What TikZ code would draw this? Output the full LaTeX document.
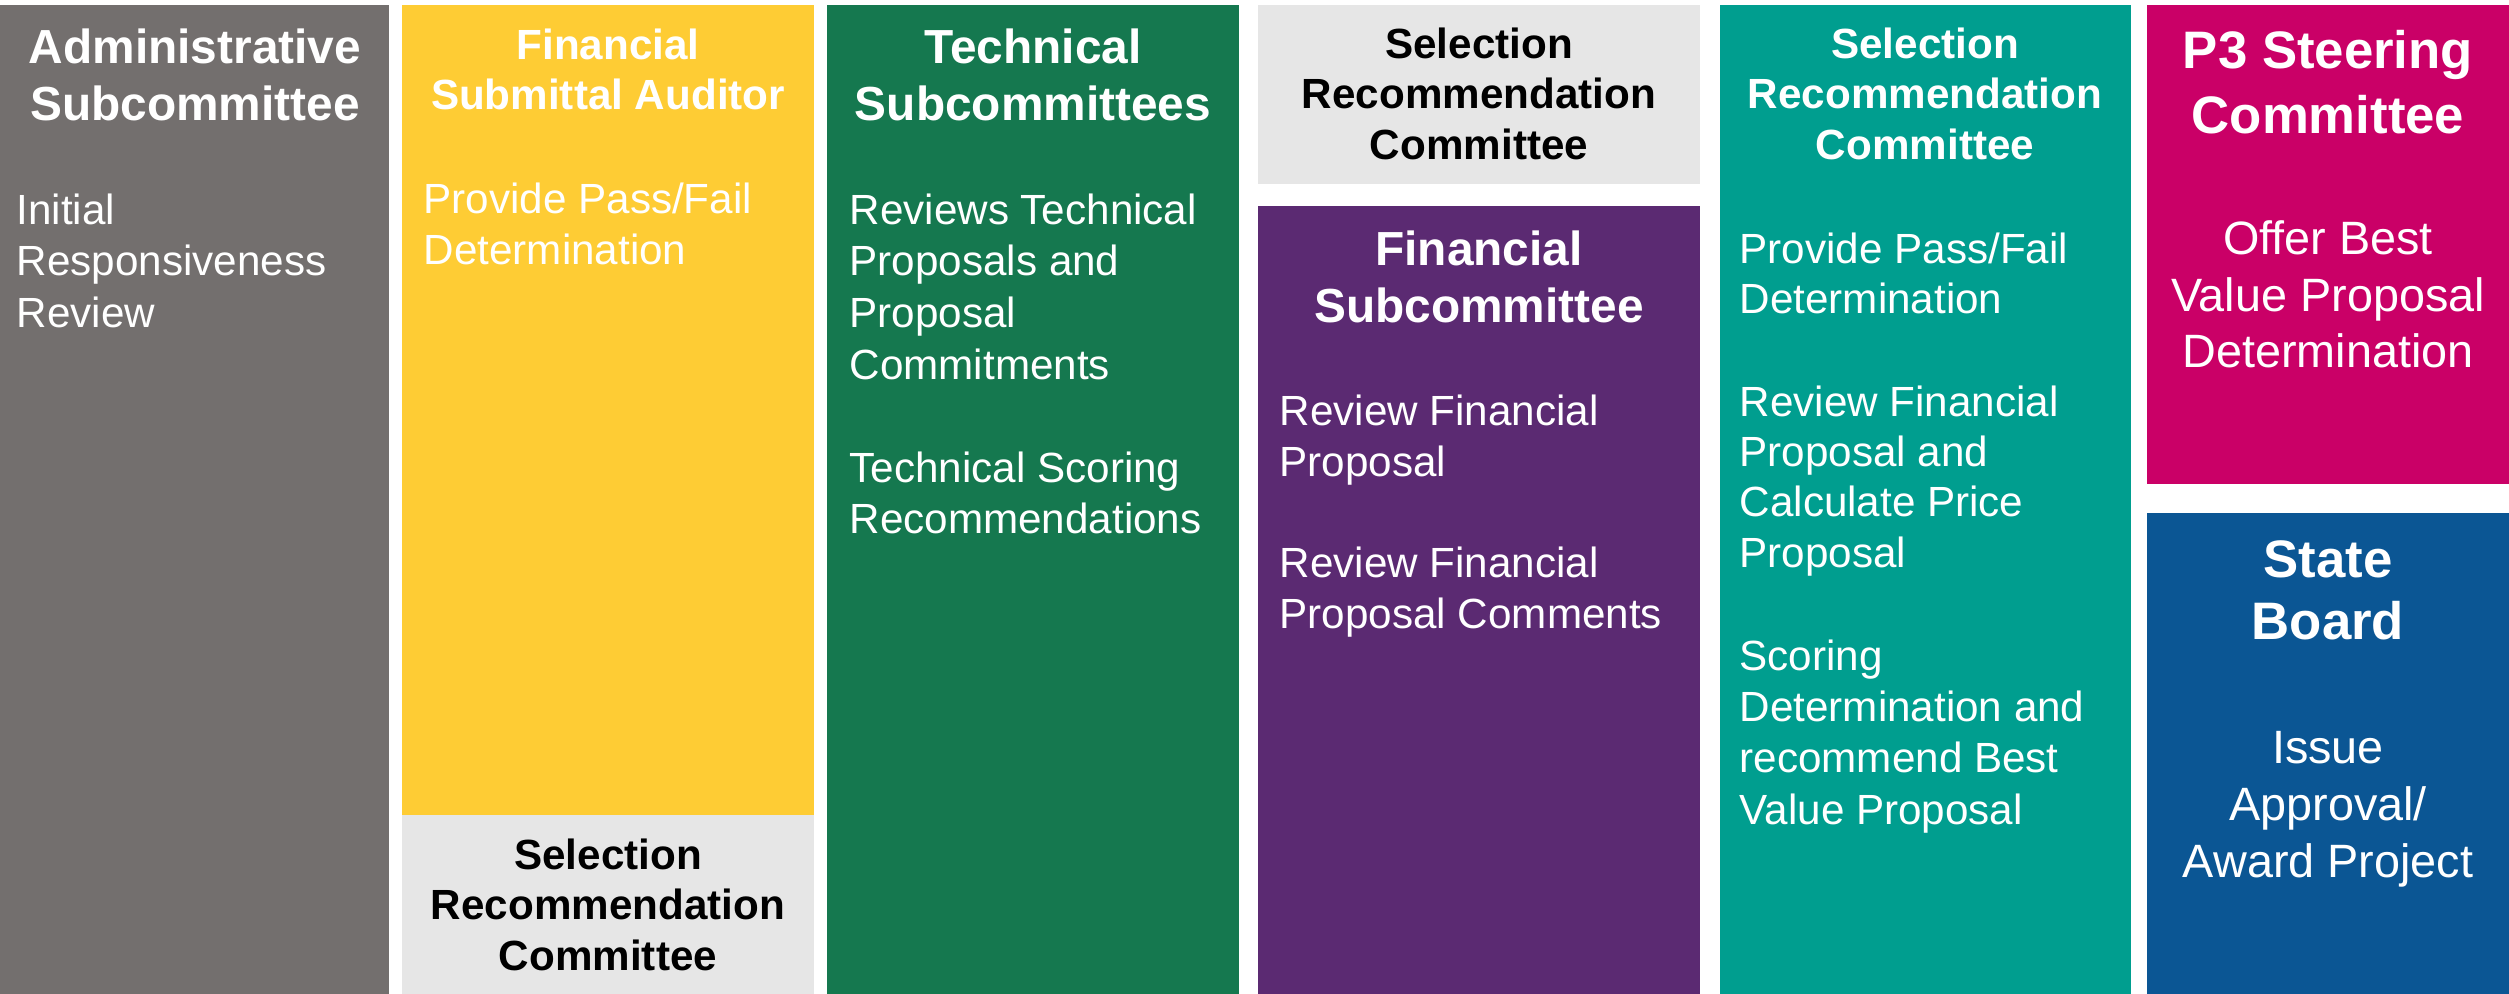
\documentclass[tikz,border=0pt]{standalone}
\usepackage{fontspec}
\setmainfont{Liberation Sans}
\definecolor{admgray}{HTML}{736F6E}
\definecolor{audyellow}{HTML}{FECC34}
\definecolor{techgreen}{HTML}{15784F}
\definecolor{srcgray}{HTML}{E6E6E6}
\definecolor{finpurple}{HTML}{5B2A72}
\definecolor{srcteal}{HTML}{009E8F}
\definecolor{ptmagenta}{HTML}{CA0067}
\definecolor{boardblue}{HTML}{0B5694}

\begin{document}
\begin{tikzpicture}[x=0.01cm,y=-0.01cm,
	ttl/.style={font=\bfseries\fontsize{13.6}{16.2}\selectfont, text=white, align=center, anchor=north, inner sep=0pt},
	ttlsm/.style={ttl, font=\bfseries\fontsize{12}{14.4}\selectfont},
	ttlbig/.style={ttl, font=\bfseries\fontsize{15}{18.3}\selectfont},
	bdy/.style={font=\fontsize{12}{14.7}\selectfont, text=white, align=left, anchor=north west, inner sep=0pt},
	bdyc/.style={font=\fontsize{13.3}{16.1}\selectfont, text=white, align=center, anchor=north, inner sep=0pt}]
	
	\useasboundingbox (0,0) rectangle (2509,994);
	
	\def\ytop{5}
	\def\ybot{994}
	
	% columns
	\fill[admgray] (0,\ytop) rectangle (389,\ybot);
	\fill[audyellow] (402,\ytop) rectangle (814,815);
	\fill[srcgray] (402,815) rectangle (814,\ybot);
	\fill[techgreen] (827,\ytop) rectangle (1239,\ybot);
	\fill[srcgray] (1258,\ytop) rectangle (1700,184);
	\fill[finpurple] (1258,206) rectangle (1700,\ybot);
	\fill[srcteal] (1720,\ytop) rectangle (2131,\ybot);
	\fill[ptmagenta] (2147,\ytop) rectangle (2509,484);
	\fill[boardblue] (2147,513) rectangle (2509,\ybot);
	
	% administrative
	\node[ttl] (admT) at (195,28) {Administrative\\Subcommittee};
	\node[bdy] (admB) at (16,193) {Initial\\Responsiveness\\Review};
	
	% auditor
	\node[ttlsm] (audT) at (608,28) {Financial\\Submittal Auditor};
	\node[bdy] (audB) at (423,182) {Provide Pass/Fail\\Determination};
	\node[ttlsm, text=black] (srcA) at (608,838) {Selection\\Recommendation\\Committee};
	
	% technical
	\node[ttl] (techT) at (1033,28) {Technical\\Subcommittees};
	\node[bdy] (techB) at (849,193) {Reviews Technical\\Proposals and\\Proposal\\Commitments};
	\node[bdy] (techC) at (849,451) {Technical Scoring\\Recommendations};
	
	% financial subcommittee
	\node[ttlsm, text=black] (srcB) at (1479,27) {Selection\\Recommendation\\Committee};
	\node[ttl] (finT) at (1479,230) {Financial\\Subcommittee};
	\node[bdy] (finB) at (1279,394) {Review Financial\\Proposal};
	\node[bdy] (finC) at (1279,546) {Review Financial\\Proposal Comments};
	
	% selection recommendation
	\node[ttlsm] (srcT) at (1925,27) {Selection\\Recommendation\\Committee};
	\node[bdy, font=\fontsize{12}{14.3}\selectfont] (srcD) at (1739,232) {Provide Pass/Fail\\Determination};
	\node[bdy, font=\fontsize{12}{14.3}\selectfont] (srcE) at (1739,385) {Review Financial\\Proposal and\\Calculate Price\\Proposal};
	\node[bdy, font=\fontsize{12}{14.6}\selectfont] (srcF) at (1739,639) {Scoring\\Determination and\\recommend Best\\Value Proposal};
	
	% steering and board
	\node[ttlbig] (p3T) at (2328,30) {P3 Steering\\Committee};
	\node[bdyc] (p3B) at (2328,220) {Offer Best\\Value Proposal\\Determination};
	\node[ttlbig, font=\bfseries\fontsize{15}{17.6}\selectfont] (brdT) at (2328,540) {State\\Board};
	\node[bdyc] (brdB) at (2328,731) {Issue\\Approval/\\Award Project};
	
\end{tikzpicture}
\end{document}
